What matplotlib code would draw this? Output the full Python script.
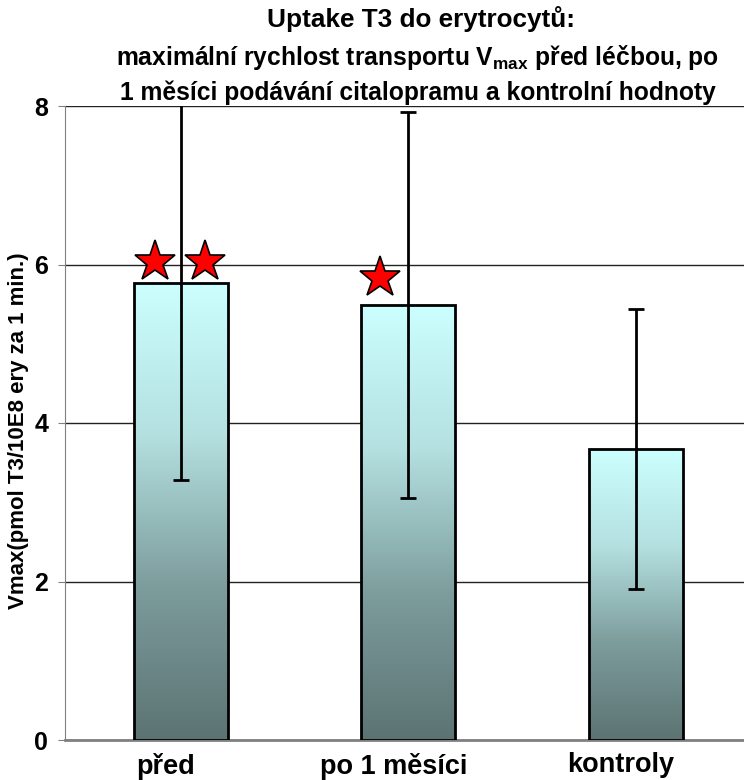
import numpy as np
import matplotlib
matplotlib.use('Agg')
import matplotlib.pyplot as plt
import matplotlib.transforms as mtransforms
from matplotlib.colors import LinearSegmentedColormap

plt.rcParams['font.family'] = ['Liberation Sans', 'DejaVu Sans']
plt.rcParams['font.weight'] = 'bold'
plt.rcParams['mathtext.fontset'] = 'custom'
plt.rcParams['mathtext.rm'] = 'Liberation Sans:bold'
plt.rcParams['mathtext.bf'] = 'Liberation Sans:bold'

# data
groups = ['před', 'po 1 měsíci', 'kontroly']
vmax = [5.77, 5.49, 3.67]
sd = [2.49, 2.44, 1.77]
# stars marking significance (x offset from bar center, y)
star_x = [-0.114, 0.106, 0.877]
star_y = [6.03, 6.03, 5.83]

fig = plt.figure(figsize=(7.44, 7.8), dpi=100)
ax = fig.add_axes([65 / 744, 1 - 740 / 780, 1 - 65 / 744, (740 - 106) / 780])

x = np.arange(len(groups))
w = 0.414
cmap = LinearSegmentedColormap.from_list('bar', ['#5c7373', '#7d9c9c', '#b4e0e0', '#ccffff'])
grad = np.linspace(0, 1, 256).reshape(-1, 1)

ax.set_xlim(-0.51, 2.477)
ax.set_ylim(0, 8)
ax.set_yticks([0, 2, 4, 6, 8])
ax.yaxis.grid(True, color='#222222', lw=1.0, zorder=0)
ax.set_axisbelow(True)

for xi, h in zip(x, vmax):
    ax.imshow(grad, extent=[xi - w / 2, xi + w / 2, 0, h], origin='lower',
              cmap=cmap, aspect='auto', zorder=2)
ax.bar(x, vmax, width=w, fill=False, edgecolor='black', linewidth=2, zorder=3)
ax.errorbar(x, vmax, yerr=sd, fmt='none', ecolor='black', elinewidth=2,
            capsize=6, capthick=2, zorder=4)
ax.plot(star_x, star_y, ls='none', marker='*', markersize=31,
        markerfacecolor='red', markeredgecolor='black', markeredgewidth=1.2,
        zorder=5, clip_on=False)

ax.set_aspect('auto')
ax.set_xticks(x)
ax.set_xticklabels(groups, fontsize=19.5, fontweight='bold')
ax.tick_params(axis='x', length=0, pad=9)
shift = mtransforms.ScaledTranslation(-15 / 100, 0, fig.dpi_scale_trans)
for t in ax.get_xticklabels():
    t.set_transform(t.get_transform() + shift)
ax.tick_params(axis='y', labelsize=18, length=5, color='#808080', pad=7)
for t in ax.get_yticklabels():
    t.set_fontweight('bold')
for s in ['top', 'right']:
    ax.spines[s].set_visible(False)
ax.spines['left'].set_color('#808080')
ax.spines['bottom'].set_color('#808080')
ax.spines['bottom'].set_linewidth(2)

fig.text(19 / 744, 1 - 431 / 780, 'Vmax(pmol T3/10E8 ery za 1 min.)', rotation=90,
         ha='center', va='center', fontsize=16, fontweight='bold')

fig.text(421 / 744, 1 - 19 / 780, 'Uptake T3 do erytrocytů:', ha='center', va='center',
         fontsize=18.8, fontweight='bold')
fig.text(418 / 744, 1 - 58 / 780, r'maximální rychlost transportu $\mathbf{V_{max}}$ před léčbou, po',
         ha='center', va='center', fontsize=17.7, fontweight='bold')
fig.text(418 / 744, 1 - 93 / 780, '1 měsíci podávání citalopramu a kontrolní hodnoty',
         ha='center', va='center', fontsize=17.7, fontweight='bold')

fig.savefig('out.png', dpi=100)
